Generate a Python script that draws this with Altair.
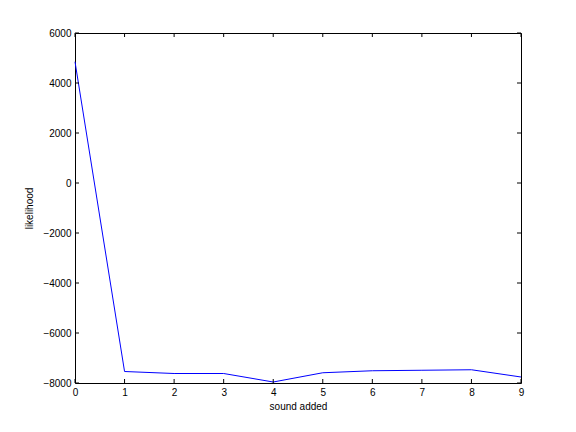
import altair as alt
import pandas as pd

sounds = [0, 1, 2, 3, 4, 5, 6, 7, 8, 9]
likelihood = [4850, -7540, -7620, -7620, -7960, -7590, -7510, -7490, -7470, -7760]
x_ticks = [0, 1, 2, 3, 4, 5, 6, 7, 8, 9]
y_ticks = [-8000, -6000, -4000, -2000, 0, 2000, 4000, 6000]

W, H = 446, 350
FONT = "Liberation Sans"

df = pd.DataFrame({"x": sounds, "y": likelihood})
xt = pd.DataFrame({"x": x_ticks})
yt = pd.DataFrame({"y": y_ticks})

xs = alt.Scale(domain=[0, 9], nice=False, zero=False)
ys = alt.Scale(domain=[-8000, 6000], nice=False, zero=False)

line = alt.Chart(df).mark_line(color="#0000FF", strokeWidth=1).encode(
    x=alt.X("x:Q", scale=xs, title="sound added",
            axis=alt.Axis(values=x_ticks, ticks=False, grid=False, labelPadding=4,
                          labelFlush=False, format="d", titlePadding=4, domain=False)),
    y=alt.Y("y:Q", scale=ys, title="likelihood",
            axis=alt.Axis(values=y_ticks, ticks=False, grid=False, labelPadding=4,
                          labelFlush=False, format="d", titlePadding=8, domain=False)),
)

tk = 4
bottom = alt.Chart(xt).mark_rule(color="black", strokeWidth=1).encode(
    x=alt.X("x:Q", scale=xs), y=alt.value(H), y2=alt.value(H - tk))
top = alt.Chart(xt).mark_rule(color="black", strokeWidth=1).encode(
    x=alt.X("x:Q", scale=xs), y=alt.value(0), y2=alt.value(tk))
left = alt.Chart(yt).mark_rule(color="black", strokeWidth=1).encode(
    y=alt.Y("y:Q", scale=ys), x=alt.value(0), x2=alt.value(tk))
right = alt.Chart(yt).mark_rule(color="black", strokeWidth=1).encode(
    y=alt.Y("y:Q", scale=ys), x=alt.value(W), x2=alt.value(W - tk))

chart = alt.layer(line, bottom, top, left, right).properties(
    width=W, height=H,
    background="white",
    autosize=alt.AutoSizeParams(type="none"),
    padding={"left": 67, "top": 25, "right": 47, "bottom": 41},
).configure_view(stroke="black", strokeWidth=1).configure_axis(
    labelFont=FONT, titleFont=FONT, labelFontSize=10, titleFontSize=10,
    labelColor="black", titleColor="black", titleFontWeight="normal",
)

chart.save("out.html", embed_options={"renderer": "svg", "actions": False})
